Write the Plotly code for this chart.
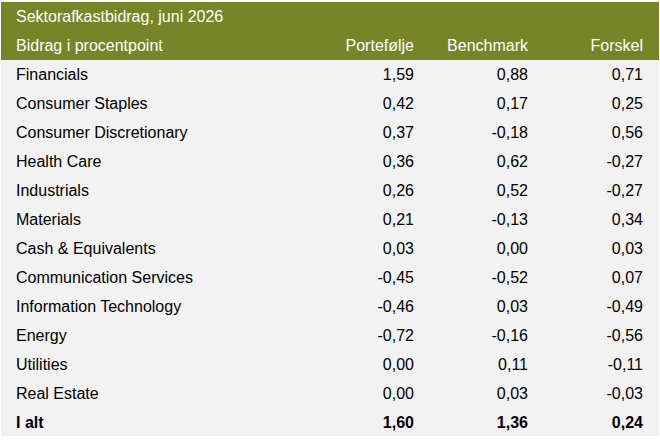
import plotly.graph_objects as go

# table data
title = "Sektorafkastbidrag, juni 2026"
subtitle = "Bidrag i procentpoint"
col_names = ["Portefølje", "Benchmark", "Forskel"]

sectors = ["Financials", "Consumer Staples", "Consumer Discretionary", "Health Care",
           "Industrials", "Materials", "Cash & Equivalents", "Communication Services",
           "Information Technology", "Energy", "Utilities", "Real Estate"]
portfolio = [1.59, 0.42, 0.37, 0.36, 0.26, 0.21, 0.03, -0.45, -0.46, -0.72, 0.00, 0.00]
benchmark = [0.88, 0.17, -0.18, 0.62, 0.52, -0.13, 0.00, -0.52, 0.03, -0.16, 0.11, 0.03]
difference = [0.71, 0.25, 0.56, -0.27, -0.27, 0.34, 0.03, 0.07, -0.49, -0.56, -0.11, -0.03]

total_label = "I alt"
total = [1.60, 1.36, 0.24]

GREEN = "#768527"
GREY = "#f2f2f2"
FONT = "Liberation Sans, Arial, sans-serif"
W, H = 660, 440
ROW = 29
widths = [7, 299, 115, 114, 115, 8]
aligns = ["left", "left", "right", "right", "right", "left"]


def fmt(v):
    return f"{v:.2f}".replace(".", ",")


def ydom(px_top, px_bottom):
    return [(H - px_bottom) / H, (H - px_top) / H]


# plotly re-measures (and grows) rows whose text holds "&", so those labels
# are left out of the main table and drawn by a small overlay table instead
amp_rows = [i for i, s in enumerate(sectors) if "&" in s]
labels = ["" if i in amp_rows else s for i, s in enumerate(sectors)]
blank = [""] * len(sectors)

top = 2
split = top + ROW * (2 + len(sectors))   # pixel y where the total row starts
bottom = split + ROW

fig = go.Figure()

fig.add_trace(go.Table(
    domain=dict(x=[1 / W, 659 / W], y=ydom(top, split)),
    columnwidth=widths,
    header=dict(
        values=[["", ""], [title, subtitle]] + [["", c] for c in col_names] + [["", ""]],
        fill_color=GREEN,
        line_color=GREEN,
        line_width=0,
        align=aligns,
        font=dict(family=FONT, size=16, color="white"),
        height=ROW,
    ),
    cells=dict(
        values=[blank, labels, [fmt(v) for v in portfolio], [fmt(v) for v in benchmark],
                [fmt(v) for v in difference], blank],
        fill_color=GREY,
        line_color=GREY,
        line_width=0,
        align=aligns,
        font=dict(family=FONT, size=16, color="black"),
        height=ROW,
    ),
))

for i in amp_rows:
    row_top = top + ROW * (2 + i) - 2  # measured rows sit ~2px lower
    fig.add_trace(go.Table(
        domain=dict(x=[1 / W, (1 + widths[0] + widths[1]) / W], y=ydom(row_top, row_top + ROW)),
        columnwidth=widths[:2],
        header=dict(
            values=["", sectors[i]],
            fill_color="rgba(0,0,0,0)",
            line_color="rgba(0,0,0,0)",
            line_width=0,
            align="left",
            font=dict(family=FONT, size=16, color="black"),
            height=ROW,
        ),
        cells=dict(values=[[], []], height=ROW),
    ))

# total row as a second, bold table
fig.add_trace(go.Table(
    domain=dict(x=[1 / W, 659 / W], y=ydom(split, bottom)),
    columnwidth=widths,
    header=dict(
        values=["", total_label] + [fmt(v) for v in total] + [""],
        fill_color=GREY,
        line_color=GREY,
        line_width=0,
        align=aligns,
        font=dict(family=FONT, size=16, color="black", weight="bold"),
        height=ROW,
    ),
    cells=dict(values=[[]] * 6, height=ROW),
))

fig.update_layout(
    width=W, height=H,
    margin=dict(l=0, r=0, t=0, b=0),
    paper_bgcolor="white",
)

fig.write_html("out.html", config={"displayModeBar": False},
               post_script="document.body.style.margin='0';")
